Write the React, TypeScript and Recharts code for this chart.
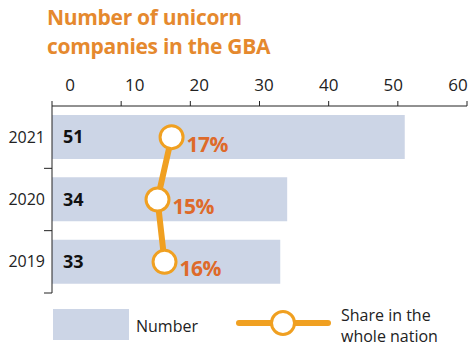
import { ComposedChart, Bar, Line, XAxis, YAxis, LabelList } from 'recharts'

const years = ['2021', '2020', '2019']
const counts = [51, 34, 33]
const shares = [17, 15, 16]
const countTicks = [0, 10, 20, 30, 40, 50, 60]

const data = years.map((year, i) => ({ year, count: counts[i], share: shares[i] }))

const ORANGE = '#F0A021'
const RED_ORANGE = '#DE6A2A'
const BAR = '#CCD5E6'
const FONT = '"Open Sans", sans-serif'

// labels in the print version sit a bit squeezed toward the middle of the axis
function CountTick(props: any) {
  const { x, y, payload } = props
  const shift = 18 - payload.value * 0.45
  return (
    <text x={x + shift} y={y} textAnchor="middle" fontSize={17} fill="#222" fontFamily={FONT}>
      {payload.value}
    </text>
  )
}

function YearTick(props: any) {
  const { x, y, payload } = props
  const half = payload.offset ?? 31
  return (
    <g>
      <text x={x - 7} y={y} dy={5.5} textAnchor="end" fontSize={16} fill="#222" fontFamily={FONT}>
        {payload.value}
      </text>
      <line x1={x - 8} x2={x} y1={y + half} y2={y + half} stroke="#222" strokeWidth={1} />
    </g>
  )
}

function ShareDot(props: any) {
  const { cx, cy } = props
  return <circle cx={cx} cy={cy} r={11.5} fill="#fff" stroke={ORANGE} strokeWidth={3} />
}

function ShareLabel(props: any) {
  const { x, y, value } = props
  return (
    <text x={x + 15} y={y + 7} dy={7.5} fontSize={21} fontWeight={700} fill={RED_ORANGE} fontFamily={FONT} letterSpacing={-0.5}>
      {value}%
    </text>
  )
}

function LegendBox() {
  return (
    <svg width={474} height={51} style={{ position: 'absolute', left: 0, top: 300 }}>
      <rect x={53} y={9} width={76} height={31} fill={BAR} />
      <text x={136} y={32} fontSize={16} fill="#222" fontFamily={FONT}>Number</text>
      <line x1={239} x2={328} y1={23} y2={23} stroke={ORANGE} strokeWidth={6} strokeLinecap="round" />
      <circle cx={283} cy={23} r={11.5} fill="#fff" stroke={ORANGE} strokeWidth={3} />
      <text x={341} y={21} fontSize={16} fill="#222" fontFamily={FONT}>Share in the</text>
      <text x={341} y={42} fontSize={16} fill="#222" fontFamily={FONT}>whole nation</text>
    </svg>
  )
}

export default function App() {
  return (
    <div style={{ position: 'absolute', left: 0, top: 0, width: 474, height: 351, background: '#fff' }}>
      <div
        style={{
          position: 'absolute',
          left: 47,
          top: 3,
          color: '#E5892E',
          fontFamily: FONT,
          fontWeight: 700,
          fontSize: 21,
          lineHeight: '29px',
          letterSpacing: -0.3,
        }}
      >
        Number of unicorn
        <br />
        companies in the GBA
      </div>
      <ComposedChart
        width={474}
        height={351}
        data={data}
        layout="vertical"
        margin={{ top: 60, right: 7, bottom: 58, left: 2 }}
      >
        <XAxis
          xAxisId="n"
          type="number"
          orientation="top"
          domain={[0, 60]}
          ticks={countTicks}
          height={46}
          tickSize={5}
          tickMargin={10}
          axisLine={{ stroke: '#222' }}
          tickLine={{ stroke: '#222' }}
          tick={<CountTick />}
          interval={0}
        />
        <XAxis xAxisId="s" type="number" domain={[0, 59]} hide />
        <YAxis
          type="category"
          dataKey="year"
          width={50}
          tickSize={0}
          tickMargin={0}
          tickLine={false}
          axisLine={{ stroke: '#222' }}
          tick={<YearTick />}
        />
        <Bar xAxisId="n" dataKey="count" fill={BAR} barSize={44} isAnimationActive={false}>
          <LabelList
            dataKey="count"
            position="insideLeft"
            offset={11}
            fill="#111"
            fontSize={18}
            fontWeight={700}
            fontFamily={FONT}
          />
        </Bar>
        <Line
          xAxisId="s"
          dataKey="share"
          type="linear"
          stroke={ORANGE}
          strokeWidth={6}
          dot={<ShareDot />}
          activeDot={false}
          isAnimationActive={false}
        >
          <LabelList dataKey="share" content={<ShareLabel />} />
        </Line>
      </ComposedChart>
      <LegendBox />
    </div>
  )
}
